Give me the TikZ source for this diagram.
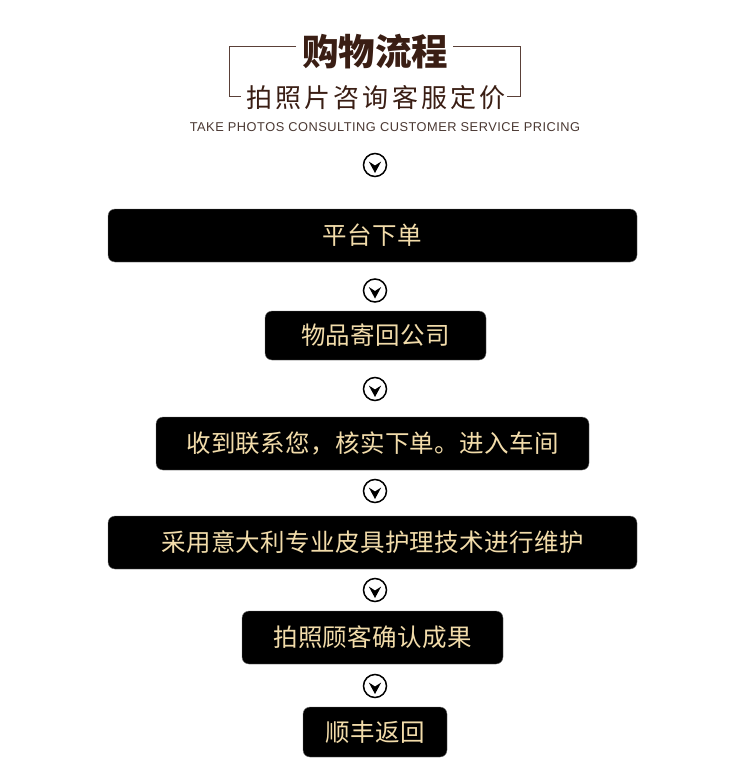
\documentclass[tikz,border=0pt]{standalone}
\usepackage{fontspec}
\setmainfont{Liberation Sans}
\newfontfamily\cjk{Noto Sans CJK SC}
\newfontfamily\cjkls[LetterSpace=12]{Noto Sans CJK SC}
\newfontfamily\cjkbox[LetterSpace=1.5]{Noto Sans CJK SC}
\newfontfamily\engls[LetterSpace=4]{Liberation Sans}
\definecolor{titlebrown}{HTML}{3A1E14}
\definecolor{linebrown}{HTML}{5A4038}
\definecolor{engbrown}{HTML}{4A3832}
\definecolor{gold}{HTML}{F2DCAA}
\begin{document}
\begin{tikzpicture}[x=1pt,y=-1pt,
  stepbox/.style={fill=black,draw=black!55,line width=0.4pt,rounded corners=7pt,inner sep=0pt,
    text=gold,font=\cjkbox\fontsize{24.5}{28}\selectfont},
  icon/.style={circle,draw=black,line width=1.5pt,minimum size=23pt,inner sep=0pt}]
\useasboundingbox (0,0) rectangle (750,781);
% title
\node[text=titlebrown,font=\cjk\bfseries\fontsize{36.5}{40}\selectfont] (title) at (375,52) {购物流程};
\node[text=titlebrown,font=\cjkls\fontsize{26}{29}\selectfont] (sub) at (376,98) {拍照片咨询客服定价};
\node[text=engbrown,font=\engls\fontsize{12.8}{14}\selectfont] (eng) at (385,127) {TAKE PHOTOS CONSULTING CUSTOMER SERVICE PRICING};
\coordinate (bl) at (229,47);
\coordinate (br) at (520,47);
\draw[linebrown,line width=1pt] (296,47) -- (bl) -- (229,97) -- (241,97);
\draw[linebrown,line width=1pt] (453,47) -- (br) -- (520,97) -- (507,97);
% boxes
\node[stepbox,minimum width=529pt,minimum height=53pt] (s1) at (372.5,235.5) {平台下单};
\node[stepbox,minimum width=221pt,minimum height=49pt] (s2) at (375.5,335.5) {物品寄回公司};
\node[stepbox,minimum width=433pt,minimum height=53pt] (s3) at (372.5,443.5) {收到联系您，核实下单。进入车间};
\node[stepbox,minimum width=529pt,minimum height=53pt] (s4) at (372.5,542.5) {采用意大利专业皮具护理技术进行维护};
\node[stepbox,minimum width=261pt,minimum height=53pt] (s5) at (372.5,637.5) {拍照顾客确认成果};
\node[stepbox,minimum width=144pt,minimum height=50pt] (s6) at (375,732) {顺丰返回};
% icons
\foreach \n/\y in {i0/165,i1/290.5,i2/389,i3/491,i4/590,i5/686}{
  \node[icon] (\n) at (375,\y) {};
  \fill[black] ([shift={(-6.2,-3.5)}]\n.center) -- ([shift={(0,0.5)}]\n.center) -- ([shift={(6.2,-3.5)}]\n.center) -- ([shift={(0,8)}]\n.center) -- cycle;
}
\end{tikzpicture}
\end{document}
